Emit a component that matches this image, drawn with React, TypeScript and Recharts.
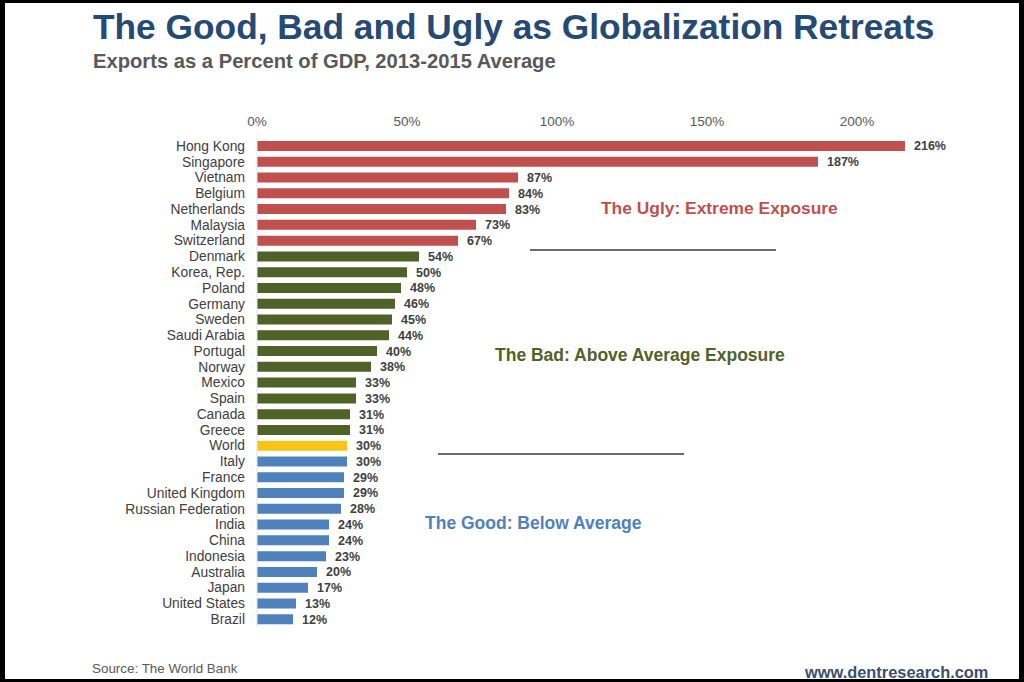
import React from 'react';
import { BarChart, Bar, XAxis, YAxis, Cell, LabelList } from 'recharts';

const countries = [
  'Hong Kong', 'Singapore', 'Vietnam', 'Belgium', 'Netherlands', 'Malaysia', 'Switzerland',
  'Denmark', 'Korea, Rep.', 'Poland', 'Germany', 'Sweden', 'Saudi Arabia', 'Portugal', 'Norway',
  'Mexico', 'Spain', 'Canada', 'Greece', 'World', 'Italy', 'France', 'United Kingdom',
  'Russian Federation', 'India', 'China', 'Indonesia', 'Australia', 'Japan', 'United States', 'Brazil',
];
const exportsPct = [
  216, 187, 87, 84, 83, 73, 67,
  54, 50, 48, 46, 45, 44, 40, 38,
  33, 33, 31, 31, 30, 30, 29, 29,
  28, 24, 24, 23, 20, 17, 13, 12,
];
const groups = [
  'ugly', 'ugly', 'ugly', 'ugly', 'ugly', 'ugly', 'ugly',
  'bad', 'bad', 'bad', 'bad', 'bad', 'bad', 'bad', 'bad',
  'bad', 'bad', 'bad', 'bad', 'world', 'good', 'good', 'good',
  'good', 'good', 'good', 'good', 'good', 'good', 'good', 'good',
];
const xTicks = [0, 50, 100, 150, 200];

const groupColors: Record<string, string> = {
  ugly: '#c0504d',
  bad: '#4f6228',
  world: '#f5c518',
  good: '#4f81bd',
};

const data = countries.map((c, i) => ({ country: c, value: exportsPct[i], group: groups[i] }));

const FONT = '"Liberation Sans", Arial, Helvetica, sans-serif';

export default function App() {
  return (
    <div style={{ position: 'absolute', left: 0, top: 0, width: 1024, height: 682, background: '#fff', fontFamily: FONT }}>
      <BarChart
        width={1024}
        height={682}
        data={data}
        layout="vertical"
        margin={{ top: 108, right: 92, bottom: 55, left: 0 }}
      >
        <XAxis
          type="number"
          orientation="top"
          domain={[0, 225]}
          ticks={xTicks}
          tickFormatter={(v: number) => `${v}%`}
          axisLine={false}
          tickLine={false}
          tickMargin={6}
          height={30}
          tick={{ fill: '#595959', fontSize: 13.5, fontFamily: FONT }}
        />
        <YAxis
          type="category"
          dataKey="country"
          width={257}
          axisLine={{ stroke: '#e3e3e3' }}
          tickLine={false}
          tickMargin={6}
          interval={0}
          tick={{ fill: '#404040', fontSize: 13.8, fontFamily: FONT }}
        />
        <Bar dataKey="value" barSize={10} isAnimationActive={false}>
          {data.map((d, i) => (
            <Cell key={i} fill={groupColors[d.group]} />
          ))}
          <LabelList
            dataKey="value"
            position="right"
            offset={9}
            formatter={(v: number) => `${v}%`}
            style={{ fill: '#404040', fontSize: 12.5, fontWeight: 'bold', fontFamily: FONT }}
          />
        </Bar>
      </BarChart>
      <svg width={1024} height={682} style={{ position: 'absolute', left: 0, top: 0, pointerEvents: 'none' }}>
        <text x={93} y={39} fontSize={35.3} fontWeight="bold" fill="#254a73" fontFamily={FONT}>
          The Good, Bad and Ugly as Globalization Retreats
        </text>
        <text x={93} y={68} fontSize={20.2} fontWeight="bold" fill="#595959" fontFamily={FONT}>
          Exports as a Percent of GDP, 2013-2015 Average
        </text>
        <text x={601} y={214} fontSize={17.4} fontWeight="bold" fill="#c0504d" fontFamily={FONT}>
          The Ugly: Extreme Exposure
        </text>
        <line x1={530} x2={776} y1={250} y2={250} stroke="#3a3a3a" strokeWidth={1.5} />
        <text x={495} y={361} fontSize={17.5} fontWeight="bold" fill="#4f6228" fontFamily={FONT}>
          The Bad: Above Average Exposure
        </text>
        <line x1={438} x2={684} y1={454} y2={454} stroke="#3a3a3a" strokeWidth={1.5} />
        <text x={425} y={529} fontSize={17.5} fontWeight="bold" fill="#4f81bd" fontFamily={FONT}>
          The Good: Below Average
        </text>
        <text x={92} y={673} fontSize={13.4} fill="#595959" fontFamily={FONT}>
          Source: The World Bank
        </text>
        <text x={805} y={678} fontSize={16.4} fontWeight="bold" fill="#3a4f6d" fontFamily={FONT}>
          www.dentresearch.com
        </text>
      </svg>
      <div
        style={{
          position: 'absolute', left: 0, top: 0, width: 1024, height: 682, boxSizing: 'border-box',
          borderStyle: 'solid', borderColor: '#000', borderWidth: '3px 5px 3px 5px', pointerEvents: 'none',
        }}
      />
    </div>
  );
}
